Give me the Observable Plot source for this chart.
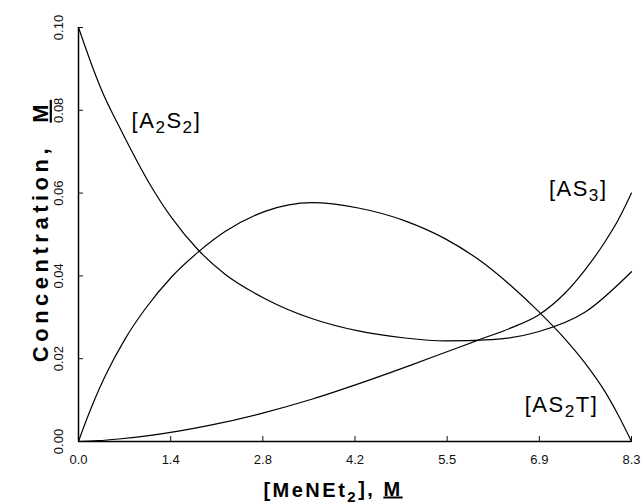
<!DOCTYPE html>
<html>
<head>
<meta charset="utf-8">
<script src="https://cdn.jsdelivr.net/npm/d3@7"></script>
<script src="https://cdn.jsdelivr.net/npm/@observablehq/plot@0.6"></script>
<style>
  html, body { margin: 0; padding: 0; background: #fff; }
  svg text { font-family: "Liberation Sans", Arial, sans-serif; }
</style>
</head>
<body>
<div id="chart"></div>
<script>
// x: [MeNEt2], M ; y: concentration, M
const xA2S2 = [0, 0.23, 0.33, 0.66, 1.04, 1.4, 1.8, 2.2, 2.8, 3.5, 4.2, 4.9, 5.5, 6.2, 6.9, 7.6, 8.3];
const yA2S2 = [0.100, 0.0896, 0.0855, 0.0745, 0.0630, 0.0540, 0.0462, 0.0404, 0.0345, 0.0297, 0.0267, 0.0250, 0.0243, 0.0246, 0.0265, 0.0312, 0.0410];

const xAS2T = [0, 0.1, 0.21, 0.4, 0.7, 1.0, 1.4, 1.8, 2.2, 2.8, 3.5, 4.2, 4.9, 5.5, 6.0, 6.5, 6.9, 7.3, 7.6, 7.9, 8.1, 8.3];
const yAS2T = [0, 0.0044, 0.0089, 0.0158, 0.0248, 0.0320, 0.0398, 0.0458, 0.0507, 0.0556, 0.0577, 0.0564, 0.0533, 0.0490, 0.0440, 0.0375, 0.0315, 0.0248, 0.0190, 0.0121, 0.0064, 0];

const xAS3 = [0, 0.3, 0.6, 1.0, 1.5, 2.0, 2.75, 3.5, 4.34, 5.0, 5.5, 6.0, 6.5, 6.9, 7.3, 7.6, 7.9, 8.1, 8.3];
const yAS3 = [0, 0.0002, 0.0006, 0.0013, 0.0025, 0.0040, 0.0068, 0.0102, 0.0147, 0.0185, 0.0215, 0.0245, 0.0275, 0.0305, 0.0358, 0.0414, 0.0482, 0.0535, 0.0600];

const xTicks = [0, 1.3833, 2.7667, 4.15, 5.5333, 6.9167, 8.3];
const yTicks = [0, 0.02, 0.04, 0.06, 0.08, 0.10];

const labelText = ["[A_2S_2]", "[AS_3]", "[AS_2T]"];
const labelX = [1.32, 7.5, 7.25];
const labelY = [0.0775, 0.061, 0.0089];

const series = [
  ...xA2S2.map((x, i) => ({x, y: yA2S2[i], s: "A2S2"})),
  ...xAS2T.map((x, i) => ({x, y: yAS2T[i], s: "AS2T"})),
  ...xAS3.map((x, i) => ({x, y: yAS3[i], s: "AS3"}))
];
const labels = labelText.map((t, i) => ({t, x: labelX[i], y: labelY[i]}));

const chart = Plot.plot({
  width: 641,
  height: 504,
  marginLeft: 78,
  marginRight: 10,
  marginTop: 27,
  marginBottom: 63,
  style: {fontFamily: "Liberation Sans, Arial, sans-serif", background: "#fff", color: "#111"},
  x: {domain: [0, 8.3]},
  y: {domain: [0, 0.10]},
  marks: [
    Plot.axisX({ticks: xTicks, tickFormat: d => d.toFixed(1), tickSize: -5, tickPadding: 18, fontSize: 13, label: null}),
    Plot.axisY({ticks: yTicks, tickFormat: d => d.toFixed(2), tickSize: -5, tickRotate: -90, tickPadding: 21, fontSize: 13, label: null}),
    Plot.ruleX([0], {stroke: "#000", strokeWidth: 1.5}),
    Plot.ruleY([0], {stroke: "#000", strokeWidth: 1.5}),
    Plot.line(series, {x: "x", y: "y", z: "s", curve: "monotone-x", stroke: "#000", strokeWidth: 1.2}),
    Plot.text(labels, {x: "x", y: "y", text: "t", fontSize: 22, fill: "#000", textAnchor: "middle", className: "spec"})
  ]
});

const svg = d3.select(chart);
// subscripts for species labels
svg.selectAll(".spec text").each(function() {
  const el = d3.select(this);
  const raw = el.text();
  el.text(null).attr("letter-spacing", "1.5px");
  const parts = raw.split(/_(\d)/);
  let prevSub = false;
  parts.forEach((p, i) => {
    if (!p) return;
    const isSub = i % 2 === 1;
    const ts = el.append("tspan").text(p);
    if (isSub) ts.attr("dy", "0.3em").attr("font-size", "0.78em");
    else if (prevSub) ts.attr("dy", "-0.234em");
    prevSub = isSub;
  });
});

// axis titles
const xt = svg.append("text")
  .attr("x", 333).attr("y", 497)
  .attr("text-anchor", "middle").attr("font-size", 20).attr("font-weight", "bold")
  .attr("letter-spacing", "2.5px").attr("fill", "#000");
xt.append("tspan").text("[MeNEt");
xt.append("tspan").attr("dy", "0.3em").attr("font-size", "15").text("2");
xt.append("tspan").attr("dy", "-0.3em").text("],\u00a0");
xt.append("tspan").attr("text-decoration", "underline").text("M");

const yt = svg.append("text")
  .attr("transform", `translate(40,231) rotate(-90)`)
  .attr("text-anchor", "middle").attr("font-size", 22).attr("font-weight", "bold")
  .attr("letter-spacing", "4.5px").attr("fill", "#000").attr("dy", "0.35em");
yt.append("tspan").text("Concentration,\u00a0\u00a0");
yt.append("tspan").attr("text-decoration", "underline").text("M");

document.getElementById("chart").appendChild(chart);
</script>
</body>
</html>
